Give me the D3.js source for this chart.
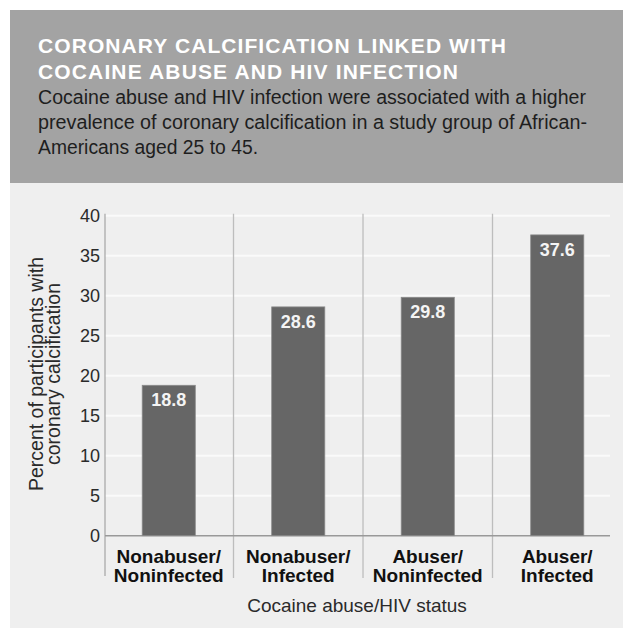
<!DOCTYPE html>
<html><head><meta charset="utf-8">
<script src="https://cdn.jsdelivr.net/npm/d3@7"></script>
<style>
body{margin:0;background:#fff;}
svg{display:block;}
text{font-family:"Liberation Sans",Arial,sans-serif;}
</style></head>
<body>
<svg id="c" width="623" height="628"></svg>
<script>
const categories = [["Nonabuser/","Noninfected"],["Nonabuser/","Infected"],["Abuser/","Noninfected"],["Abuser/","Infected"]];
const values = [18.8, 28.6, 29.8, 37.6];
const yTicks = [0,5,10,15,20,25,30,35,40];
const titleLines = ["CORONARY CALCIFICATION LINKED WITH","COCAINE ABUSE AND HIV INFECTION"];
const subtitleLines = ["Cocaine abuse and HIV infection were associated with a higher","prevalence of coronary calcification in a study group of African-","Americans aged 25 to 45."];
const yTitle = ["Percent of participants with","coronary calcification"];
const xTitle = "Cocaine abuse/HIV status";

const svg = d3.select("#c");
// header
svg.append("rect").attr("x",10).attr("y",10).attr("width",613).attr("height",173).attr("fill","#a3a3a3");
svg.append("rect").attr("x",10).attr("y",183).attr("width",613).attr("height",445).attr("fill","#efefef");

const tW = [468, 420];
titleLines.forEach((t,i)=>{
  svg.append("text").attr("x",38).attr("y",53+i*26).text(t)
    .attr("fill","#fff").attr("font-weight","bold").attr("font-size",21)
    .attr("textLength",tW[i]).attr("lengthAdjust","spacing");
});
const sW = [548, 549, 220];
subtitleLines.forEach((t,i)=>{
  svg.append("text").attr("x",38).attr("y",104+i*25).text(t)
    .attr("fill","#1e1e1e").attr("font-size",20)
    .attr("textLength",sW[i]).attr("lengthAdjust","spacingAndGlyphs");
});

const x0 = 104, x1 = 622, plotRight = 610, yTop = 215.7, yBot = 535.7;
const x = d3.scaleBand().domain(values.map((d,i)=>i)).range([x0,x1]).paddingInner(0.59).paddingOuter(0.295);
const y = d3.scaleLinear().domain([0,40]).range([yBot,yTop]);

// gridlines
svg.append("g").selectAll("line").data(yTicks.filter(d=>d>0)).join("line")
  .attr("x1",x0+1).attr("x2",plotRight).attr("y1",d=>y(d)).attr("y2",d=>y(d))
  .attr("stroke","#fafafa").attr("stroke-width",2);

// separators
const step = x.step();
const seps = values.map((d,i)=>i).slice(1).map(i=>x(i)+x.bandwidth()/2-step/2);
svg.append("g").selectAll("line").data(seps).join("line")
  .attr("x1",d=>d).attr("x2",d=>d).attr("y1",yTop-2).attr("y2",578)
  .attr("stroke","#bdbdbd").attr("stroke-width",1.3);
// y axis line
svg.append("line").attr("x1",105).attr("x2",105).attr("y1",yTop-2).attr("y2",576).attr("stroke","#aaa").attr("stroke-width",1.3);
// baseline
svg.append("line").attr("x1",105).attr("x2",plotRight).attr("y1",yBot).attr("y2",yBot).attr("stroke","#999").attr("stroke-width",1.5);

// y axis labels
const yAxis = d3.axisLeft(y).tickValues(yTicks).tickSize(0).tickPadding(0);
const ga = svg.append("g").attr("transform","translate(100,0)").call(yAxis);
ga.select(".domain").remove();
ga.selectAll("text").attr("font-size",18).attr("fill","#2a2a2a").attr("font-family","Liberation Sans, Arial, sans-serif");

// bars
svg.append("g").selectAll("rect").data(values).join("rect")
  .attr("x",(d,i)=>x(i)).attr("width",x.bandwidth())
  .attr("y",d=>y(d)).attr("height",d=>yBot-y(d))
  .attr("fill","#666").attr("stroke","#8a8a8a").attr("stroke-width",0.8);
svg.append("g").selectAll("text").data(values).join("text")
  .attr("x",(d,i)=>x(i)+x.bandwidth()/2).attr("y",d=>y(d)+21)
  .attr("text-anchor","middle").attr("fill","#f4f4f4").attr("font-weight","bold")
  .attr("font-size",18)
  .text(d=>d.toFixed(1));

// x labels
categories.forEach((c,i)=>{
  c.forEach((t,j)=>{
    svg.append("text").attr("x",x(i)+x.bandwidth()/2).attr("y",563+j*19).text(t)
      .attr("text-anchor","middle").attr("font-weight","bold").attr("font-size",19).attr("fill","#111");
  });
});

// x title
svg.append("text").attr("x",357).attr("y",611.5).attr("text-anchor","middle").attr("font-size",19).attr("fill","#2a2a2a").text(xTitle);
// y title
yTitle.forEach((t,i)=>{
  svg.append("text").attr("transform",`translate(${43+i*17},374) rotate(-90)`).attr("text-anchor","middle")
    .attr("font-size",19.5).attr("fill","#2a2a2a").text(t);
});
</script>
</body></html>
